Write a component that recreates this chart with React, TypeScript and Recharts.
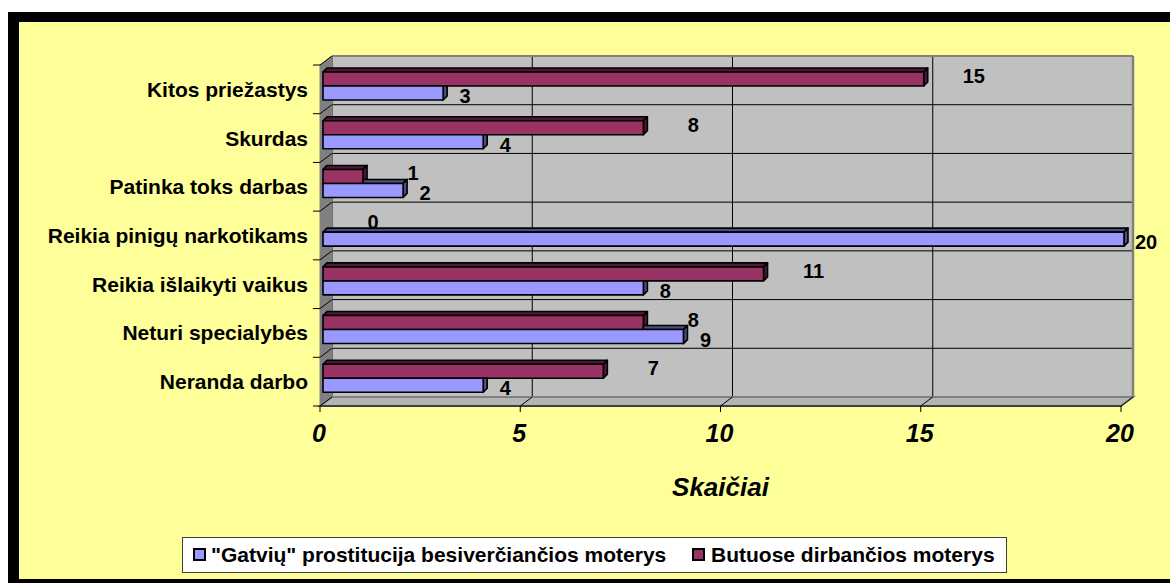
import React from 'react';
import { BarChart, Bar, XAxis, YAxis, CartesianGrid, LabelList, Customized } from 'recharts';

const categories = [
  'Kitos priežastys',
  'Skurdas',
  'Patinka toks darbas',
  'Reikia pinigų narkotikams',
  'Reikia išlaikyti vaikus',
  'Neturi specialybės',
  'Neranda darbo',
];
const streetValues = [3, 4, 2, 20, 8, 9, 4];
const apartmentValues = [15, 8, 1, 0, 11, 8, 7];
const xTicks = [0, 5, 10, 15, 20];
const seriesNames = ['"Gatvių" prostitucija besiverčiančios moterys', 'Butuose dirbančios moterys'];
const axisTitle = 'Skaičiai';

const data = categories.map((name, i) => ({ name, street: streetValues[i], apt: apartmentValues[i] }));

const W = 1170;
const H = 583;
const PLOT_LEFT = 332;
const PLOT_TOP = 56;
const PLOT_RIGHT = 1133;
const PLOT_BOTTOM = 397;
const DX = 12;
const DY = 9;
const Y_AXIS_W = 312;
const X_AXIS_H = 60;
const BAR_DX = -9;
const BAR_DY = 6;
const FACE = 4;
const FONT = '"Liberation Sans", Arial, sans-serif';

const BLUE = '#9999FF';
const BLUE_DARK = '#4D4D80';
const MAROON = '#993366';
const MAROON_DARK = '#4D1A33';

const BAND = (PLOT_BOTTOM - PLOT_TOP) / categories.length;
const hPoints = categories.map((_, i) => PLOT_TOP + i * BAND).slice(1);

const ApartmentBar = (props: any) => {
  const { x, y, width: w, height: h } = props;
  if (!w || w <= 0) return <g />;
  const X = x + BAR_DX;
  const Y = y + BAR_DY;
  return (
    <g stroke="#000" strokeWidth={1.6} strokeLinejoin="round">
      <polygon points={`${X},${Y} ${X + FACE},${Y - FACE} ${X + w + FACE},${Y - FACE} ${X + w},${Y}`} fill={MAROON_DARK} />
      <polygon points={`${X + w},${Y} ${X + w + FACE},${Y - FACE} ${X + w + FACE},${Y + h - FACE} ${X + w},${Y + h}`} fill={MAROON_DARK} />
      <rect x={X} y={Y} width={w} height={h} fill={MAROON} />
    </g>
  );
};

const StreetBar = (props: any) => {
  const { x, y, width: w, height: h, payload } = props;
  if (!w || w <= 0) return <g />;
  const X = x + BAR_DX;
  const Y = y + BAR_DY;
  const ratio = payload && payload.street > 0 ? payload.apt / payload.street : 0;
  const cover = Math.min(w, w * ratio);
  const covered = cover >= w;
  return (
    <g stroke="#000" strokeWidth={1.6} strokeLinejoin="round">
      {!covered && (
        <polygon
          points={`${X + cover},${Y} ${X + cover + (cover > 0 ? 0 : FACE)},${Y - FACE} ${X + w + FACE},${Y - FACE} ${X + w},${Y}`}
          fill={BLUE_DARK}
        />
      )}
      {covered ? (
        <polygon points={`${X + w},${Y} ${X + w + FACE},${Y} ${X + w + FACE},${Y + h - FACE} ${X + w},${Y + h}`} fill={BLUE_DARK} />
      ) : (
        <polygon points={`${X + w},${Y} ${X + w + FACE},${Y - FACE} ${X + w + FACE},${Y + h - FACE} ${X + w},${Y + h}`} fill={BLUE_DARK} />
      )}
      <rect x={X} y={Y} width={w} height={h} fill={BLUE} />
    </g>
  );
};

const makeLabel = (ox: number, oy: number) => (p: any) => {
  const { x, y, width, height, value } = p;
  const X = Number(x) + BAR_DX + Number(width || 0) + ox;
  const Y = Number(y) + BAR_DY + Number(height) / 2 + oy;
  return (
    <text x={X} y={Y} textAnchor="middle" dominantBaseline="central" fontFamily={FONT} fontWeight="bold" fontSize={20} fill="#000">
      {value}
    </text>
  );
};

const CatTick = (props: any) => {
  const { y, payload, index } = props;
  const yb = y - BAND / 2;
  const last = index === categories.length - 1;
  const fx = PLOT_LEFT - DX;
  return (
    <g>
      <text x={fx - 12} y={y + DY} textAnchor="end" dominantBaseline="central" fontFamily={FONT} fontWeight="bold" fontSize={21} fill="#000">
        {payload.value}
      </text>
      <line x1={fx - 7} y1={yb + DY} x2={fx} y2={yb + DY} stroke="#000" strokeWidth={1} />
      <line x1={fx} y1={yb + DY} x2={PLOT_LEFT} y2={yb} stroke="#000" strokeWidth={1} />
      {last && <line x1={fx - 7} y1={yb + BAND + DY} x2={fx} y2={yb + BAND + DY} stroke="#000" strokeWidth={1} />}
    </g>
  );
};

const ValTick = (props: any) => {
  const { x, payload } = props;
  const xf = x - DX;
  return (
    <g>
      <line x1={xf} y1={PLOT_BOTTOM + DY} x2={xf} y2={PLOT_BOTTOM + DY + 6} stroke="#000" strokeWidth={1} />
      <line x1={xf} y1={PLOT_BOTTOM + DY} x2={x} y2={PLOT_BOTTOM} stroke="#000" strokeWidth={1} />
      <text x={xf - 1} y={PLOT_BOTTOM + DY + 36} textAnchor="middle" fontFamily={FONT} fontWeight="bold" fontStyle="italic" fontSize={25} fill="#000">
        {payload.value}
      </text>
    </g>
  );
};

const Walls = () => (
  <g>
    <polygon
      points={`${PLOT_LEFT - DX},${PLOT_TOP + DY} ${PLOT_LEFT},${PLOT_TOP} ${PLOT_LEFT},${PLOT_BOTTOM} ${PLOT_LEFT - DX},${PLOT_BOTTOM + DY}`}
      fill="#808080"
      stroke="#808080"
      strokeWidth={1}
    />
    <polygon
      points={`${PLOT_LEFT - DX},${PLOT_BOTTOM + DY} ${PLOT_LEFT},${PLOT_BOTTOM} ${PLOT_RIGHT},${PLOT_BOTTOM} ${PLOT_RIGHT - DX},${PLOT_BOTTOM + DY}`}
      fill="#B4B4B4"
      stroke="#808080"
      strokeWidth={2}
    />
    <line x1={PLOT_LEFT} y1={PLOT_TOP} x2={PLOT_RIGHT} y2={PLOT_TOP} stroke="#808080" strokeWidth={2} />
    <line x1={PLOT_RIGHT} y1={PLOT_TOP} x2={PLOT_RIGHT} y2={PLOT_BOTTOM} stroke="#808080" strokeWidth={2.5} />
    <line x1={PLOT_LEFT - DX} y1={PLOT_BOTTOM + DY} x2={PLOT_RIGHT - DX} y2={PLOT_BOTTOM + DY} stroke="#404040" strokeWidth={2} />
  </g>
);

const XTitle = (p: any) => {
  const vb = p.viewBox || {};
  const cx = (vb.x ?? PLOT_LEFT) + (vb.width ?? PLOT_RIGHT - PLOT_LEFT) / 2 - DX;
  return (
    <text x={cx} y={PLOT_BOTTOM + DY + 90} textAnchor="middle" fontFamily={FONT} fontWeight="bold" fontStyle="italic" fontSize={26} fill="#000">
      {axisTitle}
    </text>
  );
};

const LegendBox = () => (
  <div
    style={{
      position: 'absolute',
      left: 182,
      top: 537,
      width: 825,
      height: 36,
      boxSizing: 'border-box',
      background: '#FFFFFF',
      border: '1px solid #404040',
      fontFamily: FONT,
      fontWeight: 'bold',
      fontSize: 21,
      color: '#000',
    }}
  >
    {[
      { name: seriesNames[0], color: BLUE, sq: 10, tx: 28 },
      { name: seriesNames[1], color: MAROON, sq: 509, tx: 528 },
    ].map((it) => (
      <React.Fragment key={it.name}>
        <div
          style={{
            position: 'absolute',
            left: it.sq,
            top: 10,
            width: 13,
            height: 13,
            boxSizing: 'border-box',
            background: it.color,
            border: '2px solid #000',
          }}
        />
        <div style={{ position: 'absolute', left: it.tx, top: 4, lineHeight: '26px', whiteSpace: 'nowrap' }}>{it.name}</div>
      </React.Fragment>
    ))}
  </div>
);

export default function App() {
  return (
    <div style={{ position: 'absolute', left: 0, top: 0, width: W, height: H, background: '#FFFFFF', overflow: 'hidden' }}>
      <div style={{ position: 'absolute', left: 8, top: 12, width: W - 8, height: H - 12, background: '#000' }} />
      <div style={{ position: 'absolute', left: 19, top: 22, width: W - 19, height: 557, background: '#FFFF99' }} />
      <div style={{ position: 'absolute', left: 0, top: 0 }}>
        <BarChart
          width={W}
          height={H}
          data={data}
          layout="vertical"
          barSize={14}
          barGap={0}
          margin={{ top: PLOT_TOP, right: W - PLOT_RIGHT, left: PLOT_LEFT - Y_AXIS_W, bottom: H - PLOT_BOTTOM - X_AXIS_H }}
        >
          <CartesianGrid fill="#C0C0C0" fillOpacity={1} stroke="#000" strokeWidth={1} horizontalPoints={hPoints} />
          <Customized component={<Walls />} />
          <XAxis
            type="number"
            domain={[0, 20]}
            ticks={xTicks}
            interval={0}
            axisLine={false}
            tickLine={false}
            height={X_AXIS_H}
            tick={<ValTick />}
            label={<XTitle />}
          />
          <YAxis type="category" dataKey="name" width={Y_AXIS_W} axisLine={false} tickLine={false} interval={0} tick={<CatTick />} />
          <Bar dataKey="apt" name={seriesNames[1]} fill={MAROON} shape={<ApartmentBar />} isAnimationActive={false}>
            <LabelList dataKey="apt" content={makeLabel(50, -3)} />
          </Bar>
          <Bar dataKey="street" name={seriesNames[0]} fill={BLUE} shape={<StreetBar />} isAnimationActive={false}>
            <LabelList dataKey="street" content={makeLabel(22, 3)} />
          </Bar>
        </BarChart>
      </div>
      <LegendBox />
    </div>
  );
}
